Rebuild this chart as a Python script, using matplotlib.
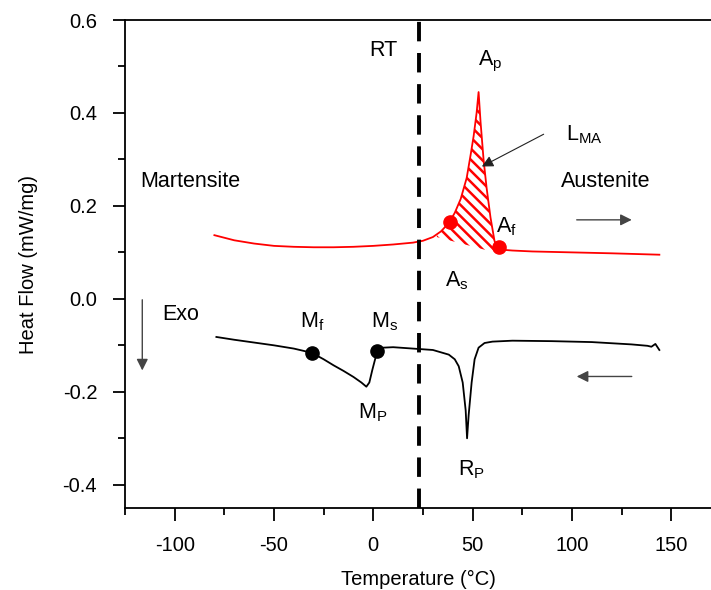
import matplotlib
matplotlib.use("Agg")
import matplotlib.pyplot as plt
import numpy as np

plt.rcParams['font.family'] = ['Liberation Sans', 'DejaVu Sans']
plt.rcParams['mathtext.fontset'] = 'custom'
plt.rcParams['mathtext.rm'] = 'Liberation Sans'
plt.rcParams['axes.unicode_minus'] = False

# heating curve (red)
heat_T = [-80, -70, -60, -50, -40, -30, -20, -10, 0, 10, 20, 25, 30, 34, 38, 41,
          44, 47, 49, 50.5, 52, 53, 54, 55.5, 57, 59, 61, 62.5, 64, 70, 80, 100, 120, 144]
heat_HF = [0.137, 0.126, 0.119, 0.114, 0.112, 0.111, 0.111, 0.112, 0.114, 0.117, 0.121,
           0.125, 0.133, 0.145, 0.163, 0.185, 0.215, 0.26, 0.31, 0.35, 0.40, 0.445, 0.38,
           0.30, 0.24, 0.175, 0.125, 0.108, 0.106, 0.104, 0.102, 0.100, 0.098, 0.095]

# cooling curve (black)
cool_T = [-79, -70, -60, -50, -40, -31, -25, -20, -15, -10, -6, -3.5, -2, -0.5, 2, 5,
          10, 20, 30, 38, 41, 43, 45, 46.5, 47.2, 48, 49.5, 51, 53, 56, 60, 70, 90, 110,
          130, 138, 140, 142, 144]
cool_HF = [-0.082, -0.088, -0.094, -0.100, -0.107, -0.116, -0.130, -0.143, -0.155, -0.168,
           -0.180, -0.189, -0.180, -0.153, -0.112, -0.105, -0.104, -0.107, -0.110, -0.120,
           -0.130, -0.145, -0.180, -0.240, -0.300, -0.250, -0.180, -0.130, -0.105, -0.095,
           -0.092, -0.090, -0.091, -0.093, -0.098, -0.101, -0.103, -0.097, -0.110]

# hatched latent heat area: baseline end points
hatch_T = [32, 62]
hatch_base = [0.133, 0.099]

# transformation points
as_pt = (38.8, 0.166)
af_pt = (63.4, 0.112)
mf_pt = (-30.7, -0.116)
ms_pt = (2.0, -0.112)
room_T = 23

fig = plt.figure(figsize=(7.11, 5.90), dpi=100)
ax = fig.add_axes([125/711, 1-508/590, (711-125)/711, (508-20)/590])

# hatched region under the peak
tt = np.linspace(hatch_T[0], hatch_T[1], 200)
top = np.interp(tt, heat_T, heat_HF)
base = np.interp(tt, hatch_T, hatch_base)
plt.rcParams['hatch.linewidth'] = 1.8
ax.fill_between(tt, base, top, facecolor='white', edgecolor='red', hatch='\\\\\\', linewidth=0)

ax.plot(heat_T, heat_HF, color='red', lw=1.3)
ax.plot(cool_T, cool_HF, color='black', lw=1.3)

ax.axvline(room_T, color='black', lw=2.8, dashes=(5, 3))

for p in (as_pt, af_pt):
    ax.plot(*p, 'o', color='red', ms=9.5)
for p in (mf_pt, ms_pt):
    ax.plot(*p, 'o', color='black', ms=9.5)

fs = 14.5
ft = 15.5
ax.text(5, 0.535, 'RT', fontsize=ft, ha='center', va='center')
ax.text(59, 0.51, r'$\mathregular{A_p}$', fontsize=ft, ha='center', va='center')
ax.text(106, 0.353, r'$\mathregular{L_{MA}}$', fontsize=ft, ha='center', va='center')
ax.text(117, 0.252, 'Austenite', fontsize=ft, ha='center', va='center')
ax.text(-92, 0.252, 'Martensite', fontsize=ft, ha='center', va='center')
ax.text(67, 0.155, r'$\mathregular{A_f}$', fontsize=ft, ha='center', va='center')
ax.text(42, 0.04, r'$\mathregular{A_s}$', fontsize=ft, ha='center', va='center')
ax.text(-97, -0.034, 'Exo', fontsize=ft, ha='center', va='center')
ax.text(-31, -0.05, r'$\mathregular{M_f}$', fontsize=ft, ha='center', va='center')
ax.text(5.5, -0.05, r'$\mathregular{M_s}$', fontsize=ft, ha='center', va='center')
ax.text(-0.5, -0.245, r'$\mathregular{M_P}$', fontsize=ft, ha='center', va='center')
ax.text(49.5, -0.367, r'$\mathregular{R_P}$', fontsize=ft, ha='center', va='center')

arr = dict(arrowstyle='-|>', color='#444444', lw=1.0, mutation_scale=17)
ax.annotate('', xy=(131.5, 0.170), xytext=(101, 0.170), arrowprops=arr)
ax.annotate('', xy=(101, -0.167), xytext=(131.5, -0.167), arrowprops=arr)
ax.annotate('', xy=(-116.3, -0.16), xytext=(-116.3, 0.004), arrowprops=arr)
ax.annotate('', xy=(53.4, 0.282), xytext=(87, 0.357),
            arrowprops=dict(arrowstyle='-|>', color='#222222', lw=0.8, mutation_scale=17))

ax.set_xlim(-125, 170)
ax.set_ylim(-0.45, 0.6)
ax.set_xticks(np.arange(-100, 151, 50))
ax.set_xticks(np.arange(-125, 170, 25), minor=True)
ax.set_yticks(np.arange(-0.4, 0.61, 0.2))
ax.set_yticks(np.arange(-0.4, 0.61, 0.1), minor=True)
ax.set_yticklabels(['%.1f' % v for v in np.arange(-0.4, 0.61, 0.2)])
ax.tick_params(which='major', length=9, width=1.3, pad=11, labelsize=fs, direction='out')
ax.tick_params(which='minor', length=5, width=1.3, direction='out')
ax.tick_params(top=False, right=False, which='both')
ax.spines['right'].set_visible(False)
for s in ('left', 'bottom', 'top'):
    ax.spines[s].set_linewidth(1.3)

ax.set_xlabel('Temperature (°C)', fontsize=fs, labelpad=11)
ax.set_ylabel('Heat Flow (mW/mg)', fontsize=fs, labelpad=18)

fig.savefig('out.png', dpi=100)
